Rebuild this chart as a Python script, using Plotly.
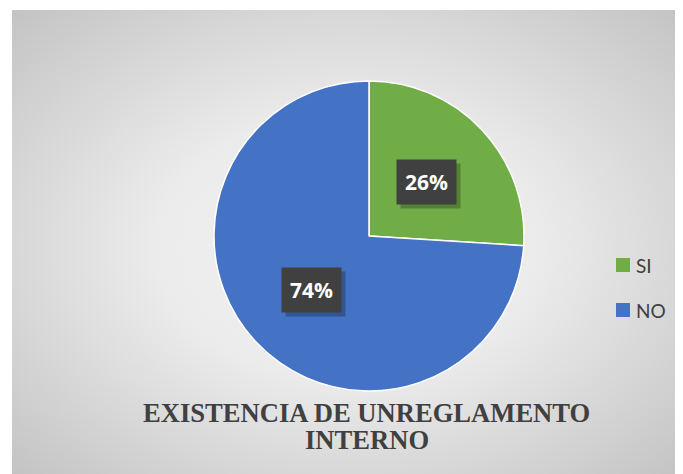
import math
import urllib.parse
import plotly.graph_objects as go

# data
labels = ['SI', 'NO']
values = [26, 74]
colors = ['#70AD47', '#4472C4']
title_lines = ['EXISTENCIA DE UNREGLAMENTO', 'INTERNO']

# the page body adds an 8px margin, so the figure is drawn 8px smaller
OFF = 8
W, H = 683 - OFF, 474 - OFF
# pie geometry in window pixels
cx, cy, R = 369, 236, 155

def px_x(x):
    return (x - OFF) / W

def px_y(y):
    return 1 - (y - OFF) / H

# radial gradient background for the chart area
svg = (
    '<svg xmlns="http://www.w3.org/2000/svg" width="671" height="462" preserveAspectRatio="none">'
    '<defs><radialGradient id="g" cx="50%" cy="50%" r="72%" fx="50%" fy="52%">'
    '<stop offset="0%" stop-color="#f3f3f3"/>'
    '<stop offset="40%" stop-color="#ebebeb"/>'
    '<stop offset="100%" stop-color="#c2c2c2"/>'
    '</radialGradient></defs>'
    '<rect width="671" height="462" fill="url(#g)"/></svg>'
)
bg_src = 'data:image/svg+xml;charset=utf-8,' + urllib.parse.quote(svg)

fig = go.Figure(go.Pie(
    labels=labels,
    values=values,
    sort=False,
    direction='clockwise',
    rotation=0,
    marker=dict(colors=colors, line=dict(color='white', width=1.5)),
    textinfo='none',
    hoverinfo='label+percent',
    showlegend=False,
    domain=dict(x=[px_x(cx - R), px_x(cx + R)], y=[px_y(cy + R), px_y(cy - R)]),
))

# percentage labels in dark boxes with a drop shadow
total = sum(values)
annotations = []
start = 0
for lab, v in zip(labels, values):
    mid = (start + v / 2) / total * 2 * math.pi
    start += v
    lx = cx + 0.51 * R * math.sin(mid)
    ly = cy - 0.51 * R * math.cos(mid)
    pct = f'{round(v / total * 100)}%'
    for shadow in (True, False):
        annotations.append(dict(
            x=px_x(lx), y=px_y(ly), xref='paper', yref='paper',
            xanchor='center', yanchor='middle',
            text=pct, showarrow=False,
            font=dict(family='Open Sans', size=21,
                      color='rgba(0,0,0,0)' if shadow else 'white', weight='bold'),
            bgcolor='rgba(0,0,0,0.25)' if shadow else '#404040',
            borderpad=8,
            xshift=4 if shadow else 0, yshift=-4 if shadow else 0,
        ))

# manual legend
shapes = []
leg_y = [265, 310]
for lab, col, y in zip(labels, colors, leg_y):
    shapes.append(dict(type='rect', xref='paper', yref='paper',
                       x0=px_x(616), x1=px_x(630), y0=px_y(y + 7), y1=px_y(y - 7),
                       fillcolor=col, line=dict(width=0)))
    annotations.append(dict(x=px_x(634), y=px_y(y), xref='paper', yref='paper',
                            text=lab, showarrow=False, xanchor='left', yanchor='middle',
                            font=dict(family='Lato', size=19, color='#404040')))

# title at bottom, two lines
for line, y in zip(title_lines, [413, 440]):
    annotations.append(dict(x=px_x(367), y=px_y(y), xref='paper', yref='paper',
                            xanchor='center', yanchor='middle',
                            text=line, showarrow=False,
                            font=dict(family='Liberation Serif', size=26.6,
                                      color='#404040', weight='bold')))

fig.update_layout(
    width=W, height=H,
    margin=dict(l=0, r=0, t=0, b=0),
    paper_bgcolor='white',
    plot_bgcolor='white',
    images=[dict(source=bg_src, xref='paper', yref='paper',
                 x=px_x(12), y=px_y(10), sizex=1 - px_x(12), sizey=px_y(10),
                 sizing='stretch', layer='below', xanchor='left', yanchor='top')],
    shapes=shapes,
    annotations=annotations,
)

fig.write_html('out.html')
